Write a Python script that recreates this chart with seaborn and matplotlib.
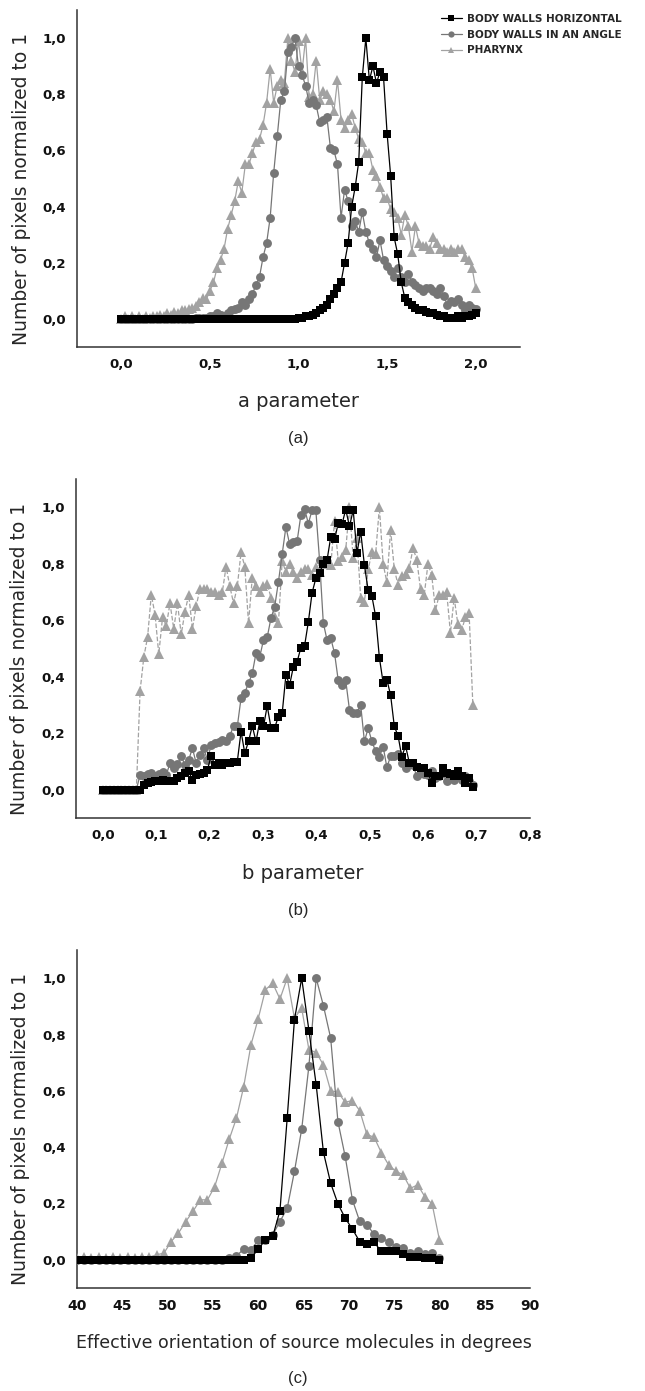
import matplotlib
matplotlib.use("Agg")
import matplotlib.pyplot as plt
import numpy as np
import seaborn as sns
from matplotlib.ticker import FuncFormatter, MultipleLocator

# ---- panel (a): a parameter, 0..2 in steps of 0.02 ----
a_x = np.round(np.arange(101) * 0.02, 3)
a_horizontal = [0.0] * 50 + [
    0.003, 0.005, 0.01, 0.01, 0.015, 0.02, 0.03, 0.04, 0.05, 0.07,
    0.09, 0.11, 0.13, 0.20, 0.27, 0.40, 0.47, 0.56, 0.86, 1.00,
    0.85, 0.90, 0.84, 0.88, 0.86, 0.66, 0.51, 0.29, 0.23, 0.13,
    0.075, 0.06, 0.05, 0.04, 0.03, 0.03, 0.025, 0.02, 0.02, 0.015,
    0.01, 0.01, 0.005, 0.005, 0.005, 0.01, 0.005, 0.01, 0.01, 0.015,
    0.02,
]
a_angle = [0.0] * 21 + [0.005, 0.005, 0.005, 0.005] + [
    0.01, 0.01, 0.02, 0.015, 0.01, 0.02, 0.03, 0.035, 0.04, 0.06,
    0.05, 0.07, 0.09, 0.12, 0.15, 0.22, 0.27, 0.36, 0.52, 0.65,
    0.78, 0.81, 0.95, 0.97, 1.00, 0.90, 0.87, 0.83, 0.77, 0.78,
    0.76, 0.70, 0.71, 0.72, 0.61, 0.60, 0.55, 0.36, 0.46, 0.42,
    0.33, 0.35, 0.31, 0.38, 0.31, 0.27, 0.25, 0.22, 0.28, 0.21,
    0.19, 0.17, 0.15, 0.18, 0.15, 0.13, 0.16, 0.13, 0.12, 0.11,
    0.10, 0.11, 0.11, 0.10, 0.09, 0.11, 0.08, 0.05, 0.065, 0.06,
    0.07, 0.05, 0.03, 0.05, 0.04, 0.035,
]
a_pharynx = [
    0.0, 0.01, 0.0, 0.01, 0.0, 0.01, 0.0, 0.01, 0.005, 0.01,
    0.01, 0.015, 0.01, 0.02, 0.015, 0.025, 0.02, 0.03, 0.03, 0.035,
    0.04, 0.045, 0.06, 0.075, 0.07, 0.10, 0.13, 0.18, 0.21, 0.25,
    0.32, 0.37, 0.42, 0.49, 0.45, 0.55, 0.55, 0.59, 0.63, 0.64,
    0.69, 0.77, 0.89, 0.77, 0.83, 0.85, 0.84, 1.00, 0.92, 0.88,
    0.99, 0.88, 1.00, 0.79, 0.80, 0.92, 0.78, 0.81, 0.80, 0.78,
    0.74, 0.85, 0.71, 0.68, 0.71, 0.73, 0.68, 0.64, 0.63, 0.59,
    0.59, 0.53, 0.51, 0.47, 0.43, 0.43, 0.39, 0.38, 0.36, 0.30,
    0.37, 0.33, 0.24, 0.33, 0.27, 0.26, 0.26, 0.25, 0.29, 0.27,
    0.25, 0.25, 0.24, 0.25, 0.24, 0.25, 0.25, 0.22, 0.21, 0.18,
    0.11,
]

# ---- panel (b): b parameter, 0..0.693 in steps of 0.007 ----
b_x = np.round(np.arange(100) * 0.007, 4)
b_horizontal = [0.0] * 11 + [
    0.018, 0.024, 0.027, 0.03, 0.03, 0.035, 0.03, 0.03, 0.03,
    0.04, 0.05, 0.06, 0.065, 0.035, 0.053, 0.055, 0.06, 0.07, 0.12,
    0.088, 0.094, 0.088, 0.096, 0.094, 0.10, 0.10, 0.206, 0.13, 0.171,
    0.226, 0.171, 0.242, 0.224, 0.297, 0.22, 0.22, 0.259, 0.27, 0.406,
    0.371, 0.436, 0.453, 0.503, 0.51, 0.594, 0.697, 0.748, 0.766, 0.80,
    0.813, 0.895, 0.886, 0.943, 0.94, 0.992, 0.932, 0.99, 0.837, 0.914,
    0.795, 0.706, 0.685, 0.614, 0.468, 0.379, 0.39, 0.335, 0.224, 0.191,
    0.117, 0.155, 0.096, 0.094, 0.08, 0.076, 0.076, 0.06, 0.024, 0.05,
    0.05, 0.076, 0.06, 0.055, 0.05, 0.065, 0.05, 0.024, 0.04, 0.01,
]
b_angle = [0.0] * 10 + [
    0.053, 0.047, 0.056, 0.06, 0.05, 0.055, 0.064, 0.053, 0.094, 0.077,
    0.09, 0.118, 0.088, 0.106, 0.147, 0.094, 0.124, 0.147, 0.106, 0.159,
    0.165, 0.17, 0.177, 0.171, 0.191, 0.226, 0.224, 0.324, 0.344, 0.377,
    0.412, 0.483, 0.47, 0.53, 0.54, 0.607, 0.648, 0.736, 0.834, 0.93,
    0.869, 0.877, 0.88, 0.972, 0.995, 0.942, 0.99, 0.99, 0.813, 0.591,
    0.53, 0.536, 0.484, 0.387, 0.37, 0.387, 0.283, 0.271, 0.273, 0.30,
    0.171, 0.218, 0.171, 0.136, 0.115, 0.153, 0.08, 0.118, 0.118, 0.127,
    0.094, 0.077, 0.09, 0.088, 0.047, 0.06, 0.055, 0.053, 0.065, 0.041,
    0.05, 0.06, 0.03, 0.053, 0.035, 0.053, 0.035, 0.05, 0.03, 0.018,
]
b_pharynx = [0.0] * 10 + [
    0.35, 0.47, 0.54, 0.69, 0.62, 0.48, 0.61, 0.58, 0.66, 0.57,
    0.66, 0.55, 0.63, 0.69, 0.57, 0.65, 0.71, 0.71, 0.71, 0.70,
    0.70, 0.69, 0.70, 0.79, 0.72, 0.66, 0.72, 0.84, 0.79, 0.59,
    0.75, 0.72, 0.70, 0.72, 0.73, 0.68, 0.61, 0.59, 0.81, 0.77,
    0.80, 0.77, 0.75, 0.77, 0.78, 0.78, 0.76, 0.79, 0.77, 0.81,
    0.80, 0.795, 0.95, 0.81, 0.825, 0.85, 1.0, 0.82, 0.89, 0.68,
    0.665, 0.78, 0.84, 0.835, 1.0, 0.80, 0.735, 0.92, 0.78, 0.725,
    0.755, 0.765, 0.785, 0.855, 0.815, 0.71, 0.69, 0.80, 0.76, 0.635,
    0.69, 0.69, 0.70, 0.555, 0.68, 0.585, 0.565, 0.61, 0.625, 0.30,
]

# ---- panel (c): orientation in degrees, 40..80 in steps of 0.8 ----
c_x = np.round(40 + np.arange(51) * 0.8, 2)
c_horizontal = [0.0] * 24 + [
    0.006, 0.038, 0.071, 0.083, 0.174, 0.503, 0.852, 1.0, 0.814, 0.621,
    0.382, 0.272, 0.199, 0.148, 0.109, 0.065, 0.057, 0.062, 0.03, 0.033,
    0.03, 0.02, 0.011, 0.009, 0.005, 0.006, 0.0,
]
c_angle = [0.0] * 21 + [
    0.006, 0.014, 0.038, 0.036, 0.069, 0.071, 0.089, 0.136, 0.183, 0.314,
    0.464, 0.689, 1.0, 0.902, 0.787, 0.491, 0.367, 0.213, 0.137, 0.125,
    0.09, 0.076, 0.065, 0.047, 0.041, 0.026, 0.03, 0.02, 0.024, 0.006,
]
c_pharynx = [
    0.005, 0.01, 0.005, 0.01, 0.005, 0.01, 0.005, 0.01, 0.005, 0.01,
    0.01, 0.018, 0.024, 0.065, 0.095, 0.136, 0.172, 0.213, 0.213, 0.26,
    0.343, 0.428, 0.503, 0.615, 0.763, 0.856, 0.959, 0.982, 0.926, 1.0,
    0.858, 0.893, 0.746, 0.736, 0.692, 0.60, 0.595, 0.56, 0.565, 0.53,
    0.445, 0.435, 0.38, 0.337, 0.314, 0.302, 0.254, 0.266, 0.224, 0.198,
    0.071,
]

labels = ["BODY WALLS HORIZONTAL", "BODY WALLS IN AN ANGLE", "PHARYNX"]
markers = ["s", "o", "^"]
colors = ["#000000", "#767676", "#a2a2a2"]
sizes = [5.6, 6.4, 6.8]

W, H = 645, 1391
sns.set_style("white")
plt.rcParams["font.family"] = ["DejaVu Sans"]
AX_COLOR = "#333333"


def rect(left, top, right, bottom):
    return [left / W, 1 - bottom / H, (right - left) / W, (bottom - top) / H]


def comma(decimals):
    return FuncFormatter(lambda v, _: f"{v:.{decimals}f}".replace(".", ","))


def draw_panel(ax, x, curves, pharynx_ls="-"):
    for i, y in enumerate(curves):
        sns.lineplot(
            x=x, y=y, ax=ax, estimator=None, sort=False,
            color=colors[i], marker=markers[i], markersize=sizes[i],
            markeredgewidth=0, linewidth=0.9,
            linestyle=pharynx_ls if i == 2 else "-",
            zorder=5 - i, label=labels[i], legend=False,
        )
    ax.set_ylim(-0.1, 1.1)
    ax.yaxis.set_major_locator(MultipleLocator(0.2))
    ax.yaxis.set_minor_locator(MultipleLocator(0.1))
    ax.yaxis.set_major_formatter(comma(1))
    for side in ("top", "right"):
        ax.spines[side].set_visible(False)
    for side in ("left", "bottom"):
        ax.spines[side].set_color(AX_COLOR)
        ax.spines[side].set_linewidth(1.1)
    ax.tick_params(which="both", direction="out", colors=AX_COLOR, width=1.0)
    ax.tick_params(which="major", length=4.5, pad=3.5, labelcolor="#111111",
                   labelsize=9.5)
    ax.tick_params(which="minor", length=2.5)
    ax.set_ylabel("Number of pixels normalized to 1", fontsize=13.5)
    ax.yaxis.set_label_coords(-0.125, 0.47)
    ax.yaxis.label.set_va("center")
    ax.grid(False)


fig = plt.figure(figsize=(W / 100, H / 100), dpi=100)

ax_a = fig.add_axes(rect(77, 10, 520, 347))
draw_panel(ax_a, a_x, [a_horizontal, a_angle, a_pharynx])
ax_a.set_xlim(-0.25, 2.25)
ax_a.xaxis.set_major_locator(MultipleLocator(0.5))
ax_a.xaxis.set_minor_locator(MultipleLocator(0.25))
ax_a.xaxis.set_major_formatter(comma(1))
ax_a.set_xlabel("a parameter", fontsize=14)

ax_b = fig.add_axes(rect(76, 479, 530, 818))
draw_panel(ax_b, b_x, [b_horizontal, b_angle, b_pharynx], pharynx_ls="--")
ax_b.set_xlim(-0.05, 0.8)
ax_b.xaxis.set_major_locator(MultipleLocator(0.1))
ax_b.xaxis.set_minor_locator(MultipleLocator(0.05))
ax_b.xaxis.set_major_formatter(comma(1))
ax_b.set_xlabel("b parameter", fontsize=14)

ax_c = fig.add_axes(rect(77, 950, 530, 1288))
draw_panel(ax_c, c_x, [c_horizontal, c_angle, c_pharynx])
ax_c.set_xlim(40, 90)
ax_c.xaxis.set_major_locator(MultipleLocator(5))
ax_c.xaxis.set_minor_locator(MultipleLocator(2.5))
ax_c.xaxis.set_major_formatter(comma(0))
ax_c.tick_params(axis="x", which="major", labelsize=10)
ax_c.set_xlabel("Effective orientation of source molecules in degrees",
                fontsize=12.5)

for ax in (ax_a, ax_b, ax_c):
    for t in ax.get_xticklabels() + ax.get_yticklabels():
        t.set_fontweight("bold")
    ax.xaxis.set_label_coords(0.5, -0.163)
    ax.xaxis.label.set_va("center")

for cap, ypix in (("(a)", 439), ("(b)", 910), ("(c)", 1379)):
    fig.text(298 / W, 1 - ypix / H, cap, ha="center", va="center",
             fontsize=12, family=["Liberation Sans", "DejaVu Sans"])

handles = ax_a.get_lines()[:3]
fig.legend(handles, labels, loc="upper left",
           bbox_to_anchor=(441 / W, 1 - 14 / H), frameon=False,
           prop={"weight": "bold", "size": 7.5}, handlelength=2.0,
           handletextpad=0.5, labelspacing=0.55, borderpad=0,
           borderaxespad=0, markerscale=0.7)

fig.savefig("out.png", dpi=100)
plt.close(fig)
